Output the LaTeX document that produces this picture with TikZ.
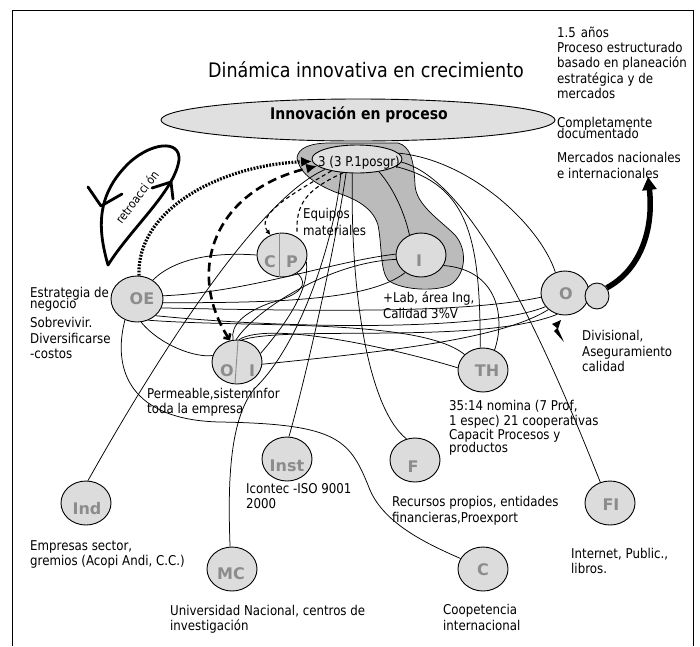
\documentclass[tikz,border=0pt]{standalone}
\usepackage{fontspec}
\setmainfont{DejaVu Sans}[FakeStretch=0.875]
\newfontfamily\lblfont{DejaVu Sans}
\usetikzlibrary{shapes.geometric,arrows.meta}
\definecolor{nodefill}{HTML}{DCDCDC}
\definecolor{bigfill}{HTML}{E0E0E0}
\definecolor{blobfill}{HTML}{BBBBBB}
\definecolor{lblgray}{HTML}{8C8C8C}
\pgfdeclarelayer{bg}
\pgfdeclarelayer{blob}
\pgfdeclarelayer{lines}
\pgfsetlayers{bg,blob,lines,main}
\begin{document}
\begin{tikzpicture}[x=1pt,y=-1pt,
  nd/.style={ellipse,draw=black,line width=0.9pt,fill=nodefill,inner sep=0pt,minimum width=50pt,minimum height=44pt},
  lbl/.style={font=\lblfont\bfseries\fontsize{16}{16}\selectfont,text=lblgray,inner sep=0pt},
  txt/.style={font=\fontsize{13.5}{15}\selectfont,inner sep=0pt,anchor=base west},
  ln/.style={line width=0.75pt},
  dsh/.style={line width=1.1pt,dash pattern=on 4pt off 3pt},
  divider/.style={draw=black!45,line width=0.9pt},
  thickline/.style={line width=2.8pt,line join=round,line cap=round}
]
\useasboundingbox (0,0) rectangle (700,646);
\begin{pgfonlayer}{bg}
\fill[white] (0,0) rectangle (700,646);
\end{pgfonlayer}
% frame
\draw[line width=1pt] (12,646) -- (12,10) -- (693,10) -- (693,646);

% title
\node[font=\fontsize{20}{20}\selectfont,inner sep=0pt,anchor=base west] (title) at (208,77) {Dinámica innovativa en crecimiento};

% blob and big ellipse
\begin{pgfonlayer}{blob}
\filldraw[fill=blobfill,draw=black,line width=0.7pt]
  (297,158) .. controls (298,148) and (310,143) .. (330,143) -- (398,143)
  .. controls (410,146) and (414,160) .. (415,185)
  .. controls (416,205) and (440,220) .. (455,235)
  .. controls (468,250) and (466,275) .. (450,285)
  .. controls (435,292) and (400,290) .. (388,280)
  .. controls (380,270) and (382,245) .. (378,225)
  .. controls (372,205) and (350,197) .. (335,192)
  .. controls (318,185) and (300,175) .. (297,158) -- cycle;
\node[ellipse,draw=black,line width=0.9pt,fill=bigfill,inner sep=0pt,minimum width=394pt,minimum height=42pt] (Big) at (358,120) {};
\end{pgfonlayer}
\node[font=\bfseries\fontsize{16}{16}\selectfont,inner sep=0pt,anchor=base west] (BigT) at (270,119.5) {Innovación en proceso};

% small ellipse
\node[ellipse,draw=black,line width=0.9pt,fill=bigfill,inner sep=0pt,minimum width=90pt,minimum height=28pt] (P3) at (357,159) {};
\node[txt] (P3T) at (318,166.5) {3 (3 P.1posgr)};

% nodes
\node[nd,minimum width=52pt,minimum height=46pt] (OE) at (137,299) {};
\node[nd] (CP) at (282,255) {};
\node[nd] (OI) at (237,362) {};
\node[nd] (I) at (421,255) {};
\node[nd,minimum width=48pt] (O) at (565,293) {};
\node[nd,minimum width=24pt,minimum height=26pt] (Os) at (597,296) {};
\node[nd] (TH) at (483,370) {};
\node[nd] (Inst) at (287,459) {};
\node[nd] (F) at (415,460) {};
\node[nd] (FI) at (610,503) {};
\node[nd] (C) at (483,569) {};
\node[nd] (Ind) at (86,503) {};
\node[nd] (MC) at (232,569) {};

\draw[divider] (279,233.2) -- (279,276.8);
\draw[divider] (238,340.3) -- (235,383.7);

% labels
\node[lbl] (OEl) at (142,299) {OE};
\node[lbl] (CPc) at (270,262) {C};
\node[lbl] (CPp) at (292,262) {P};
\node[lbl] (OIo) at (227,371) {O};
\node[lbl] (OIi) at (252,371) {I};
\node[lbl] (Il) at (419,261) {I};
\node[lbl] (Ol) at (566,294) {O};
\node[lbl] (THl) at (487,371) {TH};
\node[lbl] (Instl) at (287,466) {Inst};
\node[lbl] (Fl) at (413,467) {F};
\node[lbl] (FIl) at (611,505) {FI};
\node[lbl] (Cl) at (483,570) {C};
\node[lbl] (Indl) at (87,509) {Ind};
\node[lbl] (MCl) at (231,574) {MC};

% connectors
\coordinate (eqend) at (297,232);
\coordinate (mktip) at (648,177);
\begin{pgfonlayer}{lines}
\draw[ln] (P3.198) .. controls (255,200) and (150,370) .. (Ind.85);
\draw[ln] (P3.220) .. controls (335,240) and (300,345) .. (255,388) .. controls (228,420) and (228,490) .. (MC.95);
\draw[ln] (P3.232) .. controls (335,250) and (305,380) .. (Inst.85);
\draw[ln] (P3.252) .. controls (350,300) and (370,410) .. (F.112);
\draw[ln] (P3.330) .. controls (395,190) and (405,215) .. (I.120);
\draw[ln] (P3.349) .. controls (470,185) and (480,240) .. (TH.97);
\draw[ln] (P3.356) .. controls (470,180) and (540,330) .. (FI.115);
\draw[ln] (P3.8) .. controls (470,160) and (540,225) .. (O.115);
\draw[ln] (OE.50) .. controls (175,258) and (215,252) .. (CP.180);
\draw[ln] (OE.7) .. controls (250,292) and (330,262) .. (I.178);
\draw[ln] (OE.352) .. controls (280,303) and (370,300) .. (I.228);
\draw[ln] (OE.340) .. controls (350,312) and (470,312) .. (O.190);
\draw[ln] (OE.318) .. controls (300,330) and (490,330) .. (O.215);
\draw[ln] (OE.298) .. controls (250,328) and (420,318) .. (TH.140);
\draw[ln] (OE.280) .. controls (160,345) and (195,358) .. (OI.165);
\draw[ln] (OE.240) .. controls (112,370) and (130,420) .. (220,422) .. controls (340,424) and (350,440) .. (370,490) .. controls (385,525) and (430,545) .. (C.155);
\draw[ln] (CP.310) .. controls (310,285) and (300,295) .. (270,303) .. controls (245,312) and (230,325) .. (OI.100);
\draw[ln] (CP.345) .. controls (310,290) and (285,325) .. (OI.20);
\draw[ln] (OI.92) .. controls (255,310) and (330,262) .. (I.190);
\draw[ln] (OI.355) .. controls (380,352) and (500,340) .. (O.225);
\draw[ln] (OI.85) .. controls (270,320) and (400,350) .. (TH.175);
\draw[ln] (OI.78) .. controls (290,325) and (480,345) .. (O.250);
\draw[ln] (I.335) .. controls (500,270) and (505,320) .. (TH.60);
% dotted and dashed arrows
\draw[line width=3.2pt,dash pattern=on 1.8pt off 1.4pt,-{Latex[length=11pt,width=10pt]}] (OE.85) .. controls (136,210) and (220,165) .. (P3.183);
\draw[line width=2.6pt,dash pattern=on 9pt off 5pt,{Straight Barb[length=4pt,width=8pt]}-{Latex[length=11pt,width=10pt]}] (OI.108) .. controls (185,270) and (215,190) .. (P3.190);
\draw[dsh,-{Latex[length=5pt,width=5pt]}] (P3.205) .. controls (290,195) and (255,215) .. (CP.120);
\draw[dsh] (P3.225) .. controls (305,190) and (296,205) .. (eqend);
% thick arrow
\draw[line width=5.5pt,-{Triangle[length=13pt,width=14pt]}] (Os.40) .. controls (640,270) and (654,230) .. (mktip);
\end{pgfonlayer}

% lightning
\fill (552,324) -- (561,320) -- (558,329) -- (564,342) -- (554,331) -- (557,328) -- cycle;

% retroaccion loop
\draw[thickline] (108,265) .. controls (98,230) and (95,195) .. (130,162) .. controls (155,140) and (185,140) .. (178,165) .. controls (170,195) and (130,230) .. (108,265);
\draw[thickline] (88,187) -- (101,206) -- (122,194);
\draw[thickline] (152,188) -- (171,182) -- (173,199);
\node[rotate=53,font=\fontsize{12}{12}\selectfont,inner sep=0pt] (retro) at (137,197) {retroacci ón};

% texts
\node[txt] (a1) at (557,37) {1.5\hspace{5pt}años};
\node[txt] (a2) at (557,52) {Proceso estructurado};
\node[txt] (a3) at (557,67.5) {basado en planeación};
\node[txt] (a4) at (557,83) {estratégica y de};
\node[txt] (a5) at (557,98) {mercados};
\node[txt] (b1) at (557,127) {Completamente};
\node[txt] (b2) at (557,138) {documentado};
\node[txt] (c1) at (557,162) {Mercados nacionales};
\node[txt] (c2) at (557,178.5) {e internacionales};
\node[txt] (d1) at (30,297) {Estrategia de};
\node[txt] (d2) at (30,308) {negocio};
\node[txt] (d3) at (30,327) {Sobrevivir.};
\node[txt] (d4) at (30,343) {Diversificarse};
\node[txt] (d5) at (30,358.5) {-costos};
\node[txt] (e1) at (303,218.5) {Equipos};
\node[txt] (e2) at (303,235.5) {materiales};
\node[txt] (f1) at (383,302) {+Lab, área Ing,};
\node[txt] (f2) at (383,318) {Calidad 3\%V};
\node[txt] (g1) at (147,398.5) {Permeable,sisteminfor};
\node[txt] (g2) at (147,413.5) {toda la empresa};
\node[txt] (h1) at (582,340) {Divisional,};
\node[txt] (h2) at (582,356) {Aseguramiento};
\node[txt] (h3) at (582,371.5) {calidad};
\node[txt] (i1) at (449,410) {35:14 nomina (7 Prof,};
\node[txt] (i2) at (449,425) {1 espec) 21 cooperativas};
\node[txt] (i3) at (449,439.5) {Capacit Procesos y};
\node[txt] (i4) at (449,452) {productos};
\node[txt] (j1) at (246,493.5) {Icontec -ISO 9001};
\node[txt] (j2) at (246,508.5) {2000};
\node[txt] (k1) at (392,506) {Recursos propios, entidades};
\node[txt] (k2) at (392,522) {financieras,Proexport};
\node[txt] (l1) at (30,550) {Empresas sector,};
\node[txt] (l2) at (30,565) {gremios (Acopi Andi, C.C.)};
\node[txt] (m1) at (170,615) {Universidad Nacional, centros de};
\node[txt] (m2) at (170,630.5) {investigación};
\node[txt] (n1) at (571,558.5) {Internet, Public.,};
\node[txt] (n2) at (571,573.5) {libros.};
\node[txt] (o1) at (443,614.5) {Coopetencia};
\node[txt] (o2) at (443,630) {internacional};
\end{tikzpicture}
\end{document}
